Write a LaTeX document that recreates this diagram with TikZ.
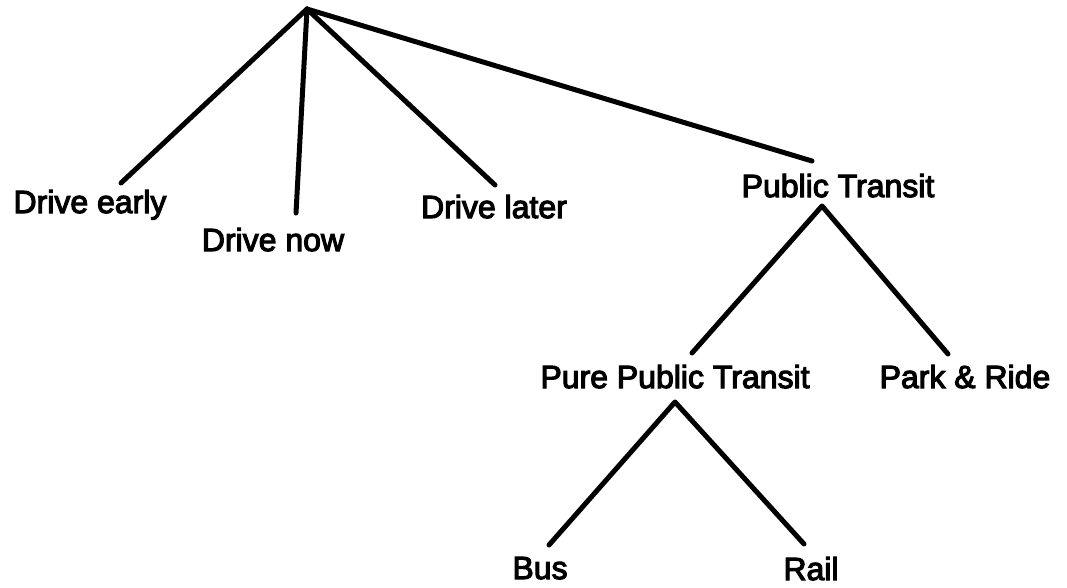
\documentclass[tikz,border=0pt]{standalone}
\usepackage{fontspec}
\setmainfont{Liberation Sans}
\newfontfamily\lblfont[FakeBold=3.5]{Liberation Sans}
\begin{document}
\begin{tikzpicture}[x=1pt,y=-1pt,
  lbl/.style={font=\lblfont\fontsize{32}{36}\selectfont, inner sep=0pt, anchor=base},
  branch/.style={line width=5pt, line cap=round, line join=round}]
\useasboundingbox (0,0) rectangle (1067,587);
% labels
\node[lbl] (early) at (90,213) {Drive early};
\node[lbl] (now) at (273,251) {Drive now};
\node[lbl] (later) at (494,218) {Drive later};
\node[lbl] (pt) at (838,197) {Public Transit};
\node[lbl] (pure) at (675,388) {Pure Public Transit};
\node[lbl] (park) at (965,388) {Park \& Ride};
\node[lbl] (bus) at (540,579) {Bus};
\node[lbl] (rail) at (811,580) {Rail};
% branch points and free ends
\coordinate (root) at (307,9);
\coordinate (earlyend) at (121,183);
\coordinate (nowend) at (296,213);
\coordinate (laterend) at (495,185);
\coordinate (ptend) at (812,161);
\coordinate (ptapex) at (822,206);
\coordinate (pureend) at (692,353);
\coordinate (parkend) at (948,354);
\coordinate (pureapex) at (675,402);
\coordinate (busend) at (549,545);
\coordinate (railend) at (804,544);
% connectors
\draw[branch] (root) -- (earlyend);
\draw[branch] (root) -- (nowend);
\draw[branch] (root) -- (laterend);
\draw[branch] (root) -- (ptend);
\draw[branch] (pureend) -- (ptapex) -- (parkend);
\draw[branch] (busend) -- (pureapex) -- (railend);
\end{tikzpicture}
\end{document}
